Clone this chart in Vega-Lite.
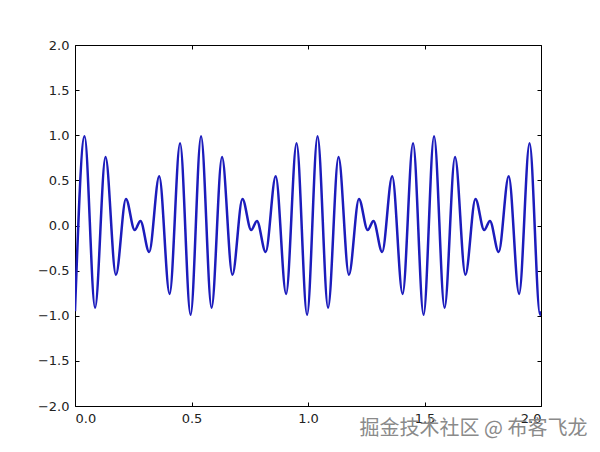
{
  "$schema": "https://vega.github.io/schema/vega-lite/v6.json",
  "width": 466,
  "height": 361,
  "autosize": {"type": "none"},
  "padding": {"left": 75, "top": 45, "right": 59, "bottom": 46},
  "background": "white",
  "config": {
    "view": {"stroke": "black", "strokeWidth": 1},
    "axis": {
      "labelFont": "DejaVu Sans", "labelFontSize": 13, "labelColor": "#222",
      "domain": false, "grid": false,
      "tickColor": "black", "tickSize": -4, "tickWidth": 1,
      "title": null
    }
  },
  "title": {
    "text": "掘金技术社区 @ 布客飞龙",
    "orient": "bottom", "anchor": "end",
    "font": "Noto Sans CJK SC", "fontSize": 20, "fontWeight": "normal",
    "color": "#8a8a8a", "offset": -6, "dx": 46
  },
  "data": {"values": [
    {"t": 0.0, "y": -0.95},
    {"t": 0.041, "y": 0.99}, {"t": 0.0861, "y": -0.91}, {"t": 0.131, "y": 0.758}, {"t": 0.1756, "y": -0.546},
    {"t": 0.2187, "y": 0.294}, {"t": 0.2561, "y": -0.051}, {"t": 0.2809, "y": 0.051}, {"t": 0.3183, "y": -0.294},
    {"t": 0.3614, "y": 0.546}, {"t": 0.406, "y": -0.758}, {"t": 0.4509, "y": 0.91}, {"t": 0.496, "y": -0.99},
    {"t": 0.541, "y": 0.99}, {"t": 0.5861, "y": -0.91}, {"t": 0.631, "y": 0.758}, {"t": 0.6756, "y": -0.546},
    {"t": 0.7187, "y": 0.294}, {"t": 0.7561, "y": -0.051}, {"t": 0.7809, "y": 0.051}, {"t": 0.8183, "y": -0.294},
    {"t": 0.8614, "y": 0.546}, {"t": 0.906, "y": -0.758}, {"t": 0.9509, "y": 0.91}, {"t": 0.996, "y": -0.99},
    {"t": 1.041, "y": 0.99}, {"t": 1.0861, "y": -0.91}, {"t": 1.131, "y": 0.758}, {"t": 1.1756, "y": -0.546},
    {"t": 1.2187, "y": 0.294}, {"t": 1.2561, "y": -0.051}, {"t": 1.2809, "y": 0.051}, {"t": 1.3183, "y": -0.294},
    {"t": 1.3614, "y": 0.546}, {"t": 1.406, "y": -0.758}, {"t": 1.4509, "y": 0.91}, {"t": 1.496, "y": -0.99},
    {"t": 1.541, "y": 0.99}, {"t": 1.5861, "y": -0.91}, {"t": 1.631, "y": 0.758}, {"t": 1.6756, "y": -0.546},
    {"t": 1.7187, "y": 0.294}, {"t": 1.7561, "y": -0.051}, {"t": 1.7809, "y": 0.051}, {"t": 1.8183, "y": -0.294},
    {"t": 1.8614, "y": 0.546}, {"t": 1.906, "y": -0.758}, {"t": 1.9509, "y": 0.91}, {"t": 1.996, "y": -0.99},
    {"t": 2.0, "y": -0.95}
  ]},
  "layer": [
    {
      "mark": {"type": "line", "interpolate": "monotone", "color": "#1c1cbc", "strokeWidth": 2.5, "clip": true},
      "encoding": {
        "x": {"field": "t", "type": "quantitative", "scale": {"domain": [0, 2], "nice": false, "zero": false},
              "axis": {"orient": "bottom", "values": [0, 0.5, 1, 1.5, 2], "format": ".1f", "labelPadding": 10}},
        "y": {"field": "y", "type": "quantitative", "scale": {"domain": [-2, 2], "nice": false, "zero": false},
              "axis": {"orient": "left", "values": [-2, -1.5, -1, -0.5, 0, 0.5, 1, 1.5, 2], "format": ".1f", "labelPadding": 10}}
      }
    },
    {
      "mark": {"type": "line", "strokeOpacity": 0},
      "encoding": {
        "x": {"field": "t", "type": "quantitative", "scale": {"domain": [0, 2], "nice": false, "zero": false},
              "axis": {"orient": "top", "values": [0, 0.5, 1, 1.5, 2], "labels": false}},
        "y": {"field": "y", "type": "quantitative", "scale": {"domain": [-2, 2], "nice": false, "zero": false},
              "axis": {"orient": "right", "values": [-2, -1.5, -1, -0.5, 0, 0.5, 1, 1.5, 2], "labels": false}}
      }
    }
  ],
  "resolve": {"axis": {"x": "independent", "y": "independent"}}
}
